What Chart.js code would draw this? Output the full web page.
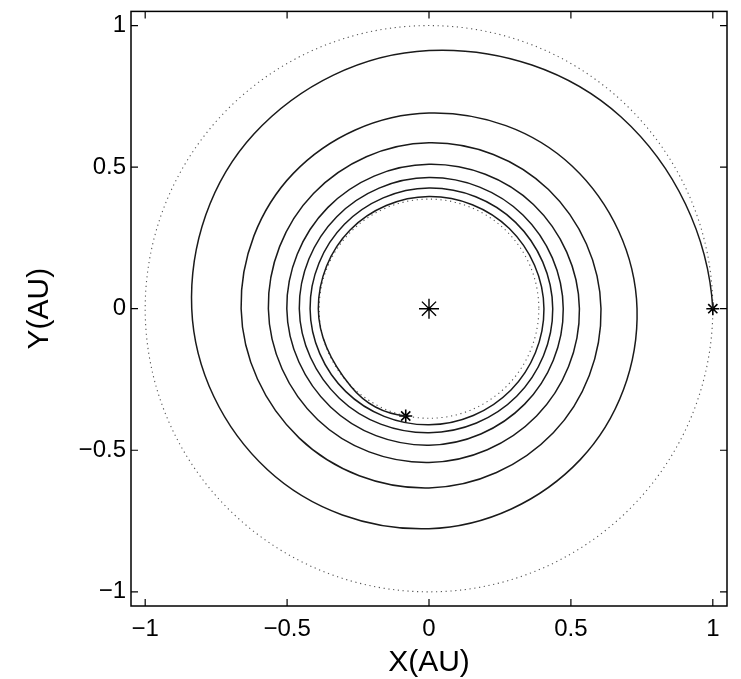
<!DOCTYPE html>
<html lang="en">
<head>
<meta charset="UTF-8">
<title>Spiral orbit X(AU) / Y(AU)</title>
<style>
  body { margin: 0; background: #fff; }
  #wrap { width: 741px; height: 679px; }
</style>
<script src="https://cdn.jsdelivr.net/npm/chart.js"></script>
</head>
<body>
<div id="wrap"><canvas id="orbitChart" width="741" height="679"></canvas></div>
<script>
// spiral path (AU), one point every 45 deg from (1, 0)
const spiralX = [1.000, 0.677, 0.000, -0.617, -0.836, -0.569, 0.000, 0.533,
  0.733, 0.504, 0.000, -0.478, -0.662, -0.457, 0.000, 0.438,
  0.606, 0.421, 0.000, -0.407, -0.566, -0.392, 0.000, 0.379,
  0.530, 0.368, 0.000, -0.357, -0.501, -0.347, 0.000, 0.337,
  0.473, 0.331, 0.000, -0.325, -0.457, -0.316, 0.000, 0.309,
  0.436, 0.305, 0.000, -0.298, -0.419, -0.293, 0.000, 0.288,
  0.405, 0.283, 0.000, -0.278, -0.390, -0.275, -0.082];
const spiralY = [0.000, 0.677, 0.912, 0.617, 0.000, -0.569, -0.777, -0.533,
  0.000, 0.504, 0.691, 0.478, 0.000, -0.457, -0.633, -0.438,
  0.000, 0.421, 0.586, 0.407, 0.000, -0.392, -0.543, -0.379,
  0.000, 0.368, 0.510, 0.357, 0.000, -0.347, -0.482, -0.337,
  0.000, 0.331, 0.463, 0.325, 0.000, -0.316, -0.438, -0.309,
  0.000, 0.305, 0.426, 0.298, 0.000, -0.293, -0.410, -0.288,
  0.000, 0.283, 0.396, 0.278, 0.000, -0.275, -0.379];

// start / end markers and the sun
const markX = [1.0, -0.082];
const markY = [0.0, -0.379];
const sunX = [0];
const sunY = [0];

// dotted reference orbits (radius, AU)
const orbitRadii = [1.0, 0.387];
const tickValues = [-1, -0.5, 0, 0.5, 1];

const toPoints = (xs, ys) => xs.map((x, i) => ({ x: x, y: ys[i] }));
const fmt = v => v === 0 ? '0' : (v < 0 ? '\u2212' + Math.abs(v) : String(v));
const FONT = "'Liberation Sans', Arial, Helvetica, sans-serif";

// chart.js aims the first/last bezier handle straight at the neighbour point,
// which kinks a curved line. mirror the neighbour's tangent about the chord instead.
function mirrorHandle(end, nb, nbHandleX, nbHandleY) {
  const cx = end.x - nb.x, cy = end.y - nb.y;
  const cl = Math.hypot(cx, cy);
  const hx = nbHandleX - nb.x, hy = nbHandleY - nb.y;
  const hl = Math.hypot(hx, hy);
  if (!cl || !hl) return null;
  const ux = cx / cl, uy = cy / cl;
  const tx = hx / hl, ty = hy / hl;
  const d = tx * ux + ty * uy;
  // reflect neighbour tangent about chord, then point it back from the end point
  const rx = 2 * d * ux - tx, ry = 2 * d * uy - ty;
  return { x: end.x - rx * hl, y: end.y - ry * hl };
}

const endHandles = {
  id: 'endHandles',
  beforeDatasetDraw(chart, args) {
    if (args.index !== 0) return;
    const line = args.meta.dataset;
    const pts = args.meta.data;
    if (!line || pts.length < 3) return;
    line.updateControlPoints(chart.chartArea, 'x');
    const p0 = pts[0], p1 = pts[1];
    const a = mirrorHandle(p0, p1, p1.cp1x, p1.cp1y);
    if (a) { p0.cp2x = a.x; p0.cp2y = a.y; }
    const pn = pts[pts.length - 1], pm = pts[pts.length - 2];
    const b = mirrorHandle(pn, pm, pm.cp2x, pm.cp2y);
    if (b) { pn.cp1x = b.x; pn.cp1y = b.y; }
    line._path = undefined;
  }
};

// dotted circles + boxed axes with inward ticks (matlab look)
const framePlugin = {
  id: 'frame',
  beforeDatasetsDraw(chart) {
    const { ctx, chartArea: a, scales: { x, y } } = chart;
    const cx = x.getPixelForValue(0), cy = y.getPixelForValue(0);
    ctx.save();
    ctx.beginPath();
    ctx.rect(a.left, a.top, a.right - a.left, a.bottom - a.top);
    ctx.clip();
    ctx.setLineDash([1.2, 3.6]);
    ctx.strokeStyle = '#555';
    ctx.lineWidth = 1.1;
    orbitRadii.forEach(r => {
      ctx.beginPath();
      ctx.ellipse(cx, cy, x.getPixelForValue(r) - cx, cy - y.getPixelForValue(r), 0, 0, Math.PI * 2);
      ctx.stroke();
    });
    ctx.restore();
  },
  afterDraw(chart) {
    const { ctx, chartArea: a, scales: { x, y } } = chart;
    const len = 7;
    ctx.save();
    ctx.strokeStyle = '#000';
    ctx.lineWidth = 1.5;
    ctx.strokeRect(a.left, a.top, a.right - a.left, a.bottom - a.top);
    ctx.lineWidth = 1.2;
    ctx.beginPath();
    tickValues.forEach(v => {
      const px = x.getPixelForValue(v);
      ctx.moveTo(px, a.bottom); ctx.lineTo(px, a.bottom - len);
      ctx.moveTo(px, a.top); ctx.lineTo(px, a.top + len);
      const py = y.getPixelForValue(v);
      ctx.moveTo(a.left, py); ctx.lineTo(a.left + len, py);
      ctx.moveTo(a.right, py); ctx.lineTo(a.right - len, py);
    });
    ctx.stroke();
    ctx.restore();
  }
};

new Chart(document.getElementById('orbitChart'), {
  type: 'scatter',
  data: {
    datasets: [
      {
        label: 'spiral',
        data: toPoints(spiralX, spiralY),
        showLine: true,
        tension: 0.37,
        borderColor: '#1a1a1a',
        borderWidth: 1.5,
        pointRadius: 0,
        fill: false
      },
      {
        label: 'markers',
        data: toPoints(markX, markY),
        pointStyle: 'star',
        pointRadius: 6.5,
        borderColor: '#000',
        backgroundColor: '#000',
        borderWidth: 1.6
      },
      {
        label: 'sun',
        data: toPoints(sunX, sunY),
        pointStyle: 'star',
        pointRadius: 10,
        borderColor: '#000',
        backgroundColor: '#000',
        borderWidth: 1.4
      }
    ]
  },
  options: {
    responsive: false,
    animation: false,
    devicePixelRatio: 1,
    layout: { padding: { top: 7, right: 14, left: 0, bottom: 0 } },
    plugins: { legend: { display: false }, tooltip: { enabled: false } },
    scales: {
      x: {
        type: 'linear',
        min: -1.05,
        max: 1.05,
        grid: { display: false, drawTicks: false },
        border: { display: false },
        afterBuildTicks: s => { s.ticks = tickValues.map(v => ({ value: v })); },
        afterFit: s => { s.height = 73; s.paddingLeft = 0; s.paddingRight = 0; },
        ticks: { padding: 9, color: '#000', font: { family: FONT, size: 24 }, callback: fmt, maxRotation: 0 },
        title: { display: true, text: 'X(AU)', color: '#000', font: { family: FONT, size: 30, lineHeight: 1 }, padding: { top: 0, bottom: 1 } }
      },
      y: {
        type: 'linear',
        min: -1.05,
        max: 1.05,
        grid: { display: false, drawTicks: false },
        border: { display: false },
        afterBuildTicks: s => { s.ticks = tickValues.map(v => ({ value: v })); },
        afterFit: s => { s.width = 131; s.paddingTop = 0; s.paddingBottom = 0; },
        ticks: { padding: 5, color: '#000', font: { family: FONT, size: 24 }, callback: fmt },
        title: { display: true, text: 'Y(AU)', color: '#000', font: { family: FONT, size: 30, lineHeight: 1 }, padding: { top: 25, bottom: 0 } }
      }
    }
  },
  plugins: [framePlugin, endHandles]
});
</script>
</body>
</html>
